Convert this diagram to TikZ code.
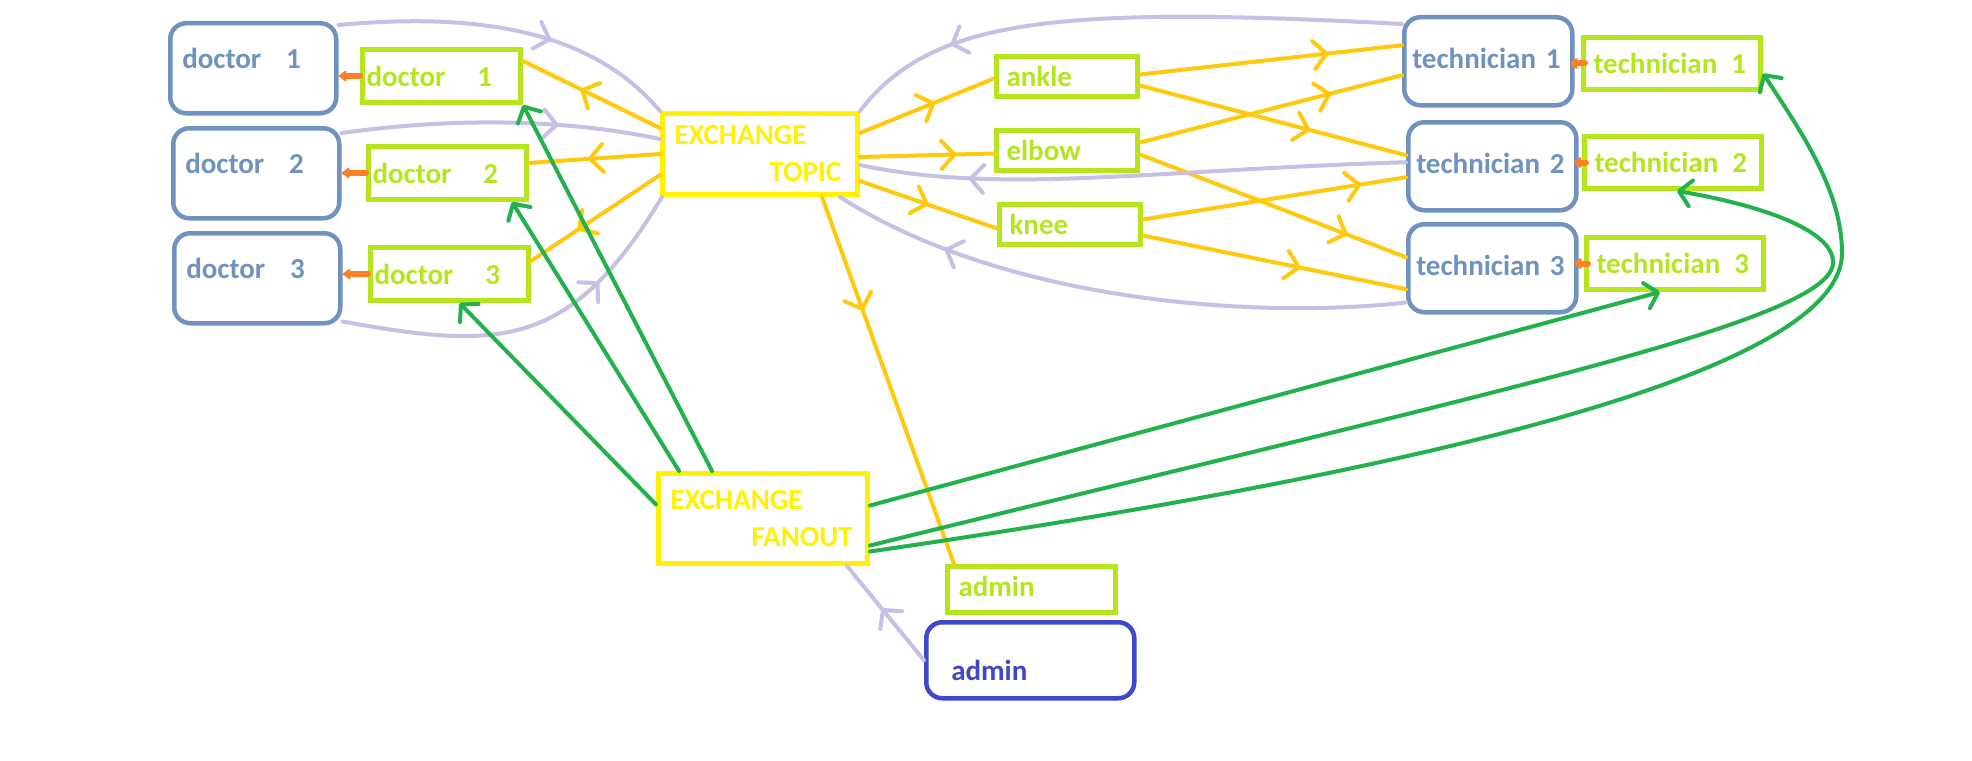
\documentclass[tikz,border=0pt]{standalone}
\usepackage{fontspec}
\setmainfont{Carlito}
\usepackage{tikz}
\usetikzlibrary{positioning, calc, arrows.meta, decorations.markings}

\definecolor{slate}{HTML}{7092BE}
\definecolor{limeq}{HTML}{B5E61D}
\definecolor{exyellow}{HTML}{FFF200}
\definecolor{goldln}{HTML}{FFC90E}
\definecolor{lavln}{HTML}{C8BFE7}
\definecolor{greenln}{HTML}{22B14C}
\definecolor{blobc}{HTML}{FF7F27}
\definecolor{indigo}{HTML}{3F48CC}

\begin{document}
\begin{tikzpicture}[x=1pt, y=-1pt,
    every node/.style={font=\fontsize{29}{37}\selectfont\bfseries, anchor=north west, inner ysep=0pt},
    user/.style={draw=slate, line width=4.5pt, rounded corners=16pt, text=slate, align=left},
    queue/.style={draw=limeq, line width=5pt, text=limeq, align=left},
    exchange/.style={draw=exyellow, line width=5pt, text=exyellow, align=left},
    docbox/.style={user, minimum width=166pt, minimum height=90pt, inner xsep=12pt, text width=142pt, text height=20pt, text depth=20pt},
    techbox/.style={user, minimum width=168pt, minimum height=88pt, inner xsep=8pt, text width=152pt, text height=20pt, text depth=6pt},
    docq/.style={queue, minimum width=158pt, minimum height=53pt, inner xsep=4pt, text width=150pt, text height=20pt, text depth=0pt},
    techq/.style={queue, minimum width=177pt, minimum height=52pt, inner xsep=10pt, text width=157pt, text height=20pt, text depth=0pt},
    keyq/.style={queue, minimum width=141pt, minimum height=40pt, inner xsep=10pt, text width=121pt, text height=20pt, text depth=0pt},
    mid/.style={postaction={decorate}, decoration={markings, mark=at position #1 with {\arrow{Straight Barb[length=13pt,width=28pt,round]}}}},
    topicln/.style={draw=goldln, line width=4pt, line cap=round, mid=#1},
    replyln/.style={draw=lavln, line width=4pt, line cap=round, mid=#1},
    fanln/.style={draw=greenln, line width=4pt, line cap=round, -{Straight Barb[length=12pt,width=26pt,round]}},
    blob/.style={draw=blobc, line width=6pt, line cap=round, -{Latex[length=9pt,width=14pt,round]}}]

    \fill[white] (0,0) rectangle (1972,760);
    \useasboundingbox (0,0) rectangle (1972,760);

    % Doctors and their queues
    \node[docbox] (D1) at (168,21) {doctor\hspace{25pt}1};
    \node[docbox] (D2) at (171,126) {doctor\hspace{25pt}2};
    \node[docbox] (D3) at (172,231) {doctor\hspace{25pt}3};
    \node[docq] (DQ1) at (360,47) {doctor\hspace{32pt}1};
    \node[docq] (DQ2) at (366,144) {doctor\hspace{32pt}2};
    \node[docq] (DQ3) at (368,245) {doctor\hspace{32pt}3};

    % Exchanges
    \node[exchange, minimum width=195pt, minimum height=81pt, inner xsep=12pt, text width=171pt] (TOPIC) at (660,111) {EXCHANGE\\\hspace*{95pt}TOPIC};
    \node[exchange, minimum width=209pt, minimum height=90pt, inner xsep=12pt, text width=185pt] (FANOUT) at (656,471) {EXCHANGE\\\hspace*{81pt}FANOUT};

    % Topic queues
    \node[keyq] (ANKLE) at (994,54) {ankle};
    \node[keyq] (ELBOW) at (994,128) {elbow};
    \node[keyq] (KNEE) at (997,202) {knee};

    % Technicians and their queues
    \node[techbox] (T1) at (1402,15) {technician 1};
    \node[techbox] (T2) at (1406,120) {technician 2};
    \node[techbox] (T3) at (1406,222) {technician 3};
    \node[techq] (TQ1) at (1581,35) {technician\hspace{14pt}1};
    \node[techq] (TQ2) at (1582,134) {technician\hspace{14pt}2};
    \node[techq] (TQ3) at (1584,235) {technician\hspace{14pt}3};

    % Admin
    \node[queue, minimum width=168pt, minimum height=46pt, inner xsep=11pt, text width=146pt, text height=20pt, text depth=6pt] (ADMQ) at (945,564) {admin};
    \node[draw=indigo, line width=4.5pt, rounded corners=16pt, text=indigo, align=left, minimum width=208pt, minimum height=76pt, inner xsep=25pt, text width=158pt, text height=40pt, text depth=0pt] (ADM) at (924,620) {admin};

    % Queue to consumer
    \draw[blob] (DQ1.west) -- (DQ1.west -| D1.east);
    \draw[blob] (DQ2.west) -- (DQ2.west -| D2.east);
    \draw[blob] (DQ3.west) -- (DQ3.west -| D3.east);
    \draw[blob] ($(TQ1.west)+(4,0)$) -- ($(TQ1.west -| T1.east)+(-5,0)$);
    \draw[blob] ($(TQ2.west)+(4,0)$) -- ($(TQ2.west -| T2.east)+(-5,0)$);
    \draw[blob] ($(TQ3.west)+(4,0)$) -- ($(TQ3.west -| T3.east)+(-5,0)$);

    % Topic exchange bindings
    \draw[topicln=0.58] ([yshift=26pt]TOPIC.west) -- ([yshift=15pt]DQ1.east);
    \draw[topicln=0.55] (TOPIC.west) -- ([yshift=10pt]DQ2.east);
    \draw[topicln=0.64] ([yshift=-21pt]TOPIC.west) -- ([yshift=13pt]DQ3.east);
    \draw[topicln=0.56] ([yshift=21pt]TOPIC.east) -- ([yshift=-2pt]ANKLE.west);
    \draw[topicln=0.72] ([yshift=-3pt]TOPIC.east) -- ([yshift=-3pt]ELBOW.west);
    \draw[topicln=0.5] ([yshift=-27pt]TOPIC.east) -- ([yshift=-4pt]KNEE.west);
    \draw[topicln=0.31] ([xshift=62pt]TOPIC.south) -- ([xshift=9pt]ADMQ.north west);

    % Keys to technicians
    \draw[topicln=0.72] ([yshift=2pt]ANKLE.east) -- ([yshift=16pt]T1.west);
    \draw[topicln=0.64] ([yshift=-9pt]ANKLE.east) -- ([yshift=11pt]T2.west);
    \draw[topicln=0.73] ([yshift=8pt]ELBOW.east) -- ([yshift=-14pt]T1.west);
    \draw[topicln=0.78] ([yshift=-4pt]ELBOW.east) -- ([yshift=11pt]T3.west);
    \draw[topicln=0.83] ([yshift=5pt]KNEE.east) -- ([yshift=-11pt]T2.west);
    \draw[topicln=0.6] ([yshift=-11pt]KNEE.east) -- ([yshift=-21pt]T3.west);

    % Publishers into the exchanges
    \draw[replyln=0.62] ([yshift=-4pt]D1.north east) .. controls (500,10) and (600,40) .. (TOPIC.north west);
    \draw[replyln=0.68] ([yshift=-7pt]D2.north east) .. controls (450,118) and (560,118) .. ([yshift=15pt]TOPIC.west);
    \draw[replyln=0.72] ([yshift=4pt]D3.south east) .. controls (500,350) and (570,350) .. ([xshift=2pt]TOPIC.south west);
    \draw[replyln=0.8] ([yshift=-9pt]T1.north west) .. controls (1050,5) and (930,20) .. (TOPIC.north east);
    \draw[replyln=0.8] ([yshift=4pt]T2.west) .. controls (1150,170) and (1000,195) .. ([yshift=-11pt]TOPIC.east);
    \draw[replyln=0.8] ([yshift=12pt]T3.south west) .. controls (1250,320) and (1000,300) .. ([xshift=80pt]TOPIC.south);
    \draw[replyln=0.55] (ADM.west) -- ([xshift=84pt]FANOUT.south);

    % Fanout to every queue
    \draw[fanln] ([yshift=14pt]FANOUT.west) -- ([xshift=10pt]DQ3.south);
    \draw[fanln] ([xshift=-84pt]FANOUT.north) -- ([xshift=-17pt]DQ2.south east);
    \draw[fanln] ([xshift=-51pt]FANOUT.north) -- (DQ1.south east);
    \draw[fanln] ([yshift=13pt]FANOUT.east) -- ([xshift=-15pt]TQ3.south);
    \draw[fanln] ([yshift=-27pt]FANOUT.east) .. controls (1500,390) and (1835,320) .. (1833,262)
        .. controls (1833,230) and (1760,205) .. ([xshift=4pt]TQ2.south);
    \draw[fanln] ([yshift=-33pt]FANOUT.east) .. controls (1500,460) and (1842,360) .. (1842,253)
        .. controls (1842,190) and (1800,130) .. ([yshift=-10pt]TQ1.east);

\end{tikzpicture}
\end{document}
